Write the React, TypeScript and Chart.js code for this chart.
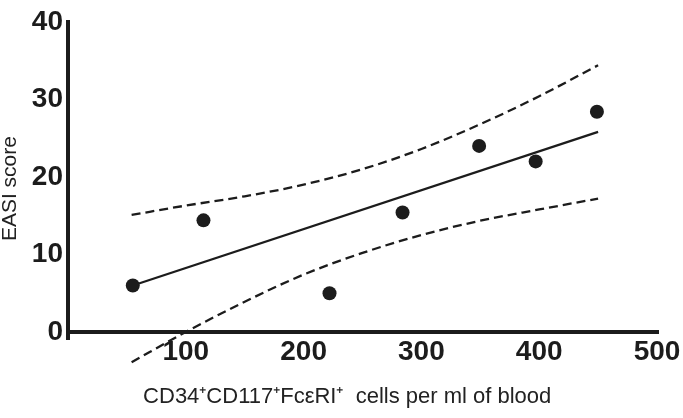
import { useEffect, useRef } from "react";
import { Chart, registerables } from "chart.js";

Chart.register(...registerables);

// CD34+CD117+FcεRI+ cells per ml vs EASI score
const cellCounts = [55, 115, 222, 284, 349, 397, 449];
const easiScores = [6.0, 14.4, 5.0, 15.4, 24.0, 22.0, 28.4];

// regression line end points
const fitX = [55, 450];
const fitY = [6.0, 25.8];

// 95% confidence band
const bandX = [54, 100, 150, 200, 250, 300, 350, 400, 450];
const upperBand = [15.1, 16.3, 17.5, 19.0, 21.0, 23.6, 26.8, 30.4, 34.4];
const lowerBand = [-3.9, 0, 3.9, 7.4, 10.2, 12.5, 14.35, 15.8, 17.2];

const xTicks = [0, 100, 200, 300, 400, 500];
const yTicks = [0, 10, 20, 30, 40];

const ink = "#1c1c1c";
const fontFamily = "'Liberation Sans', Arial, sans-serif";

const toPoints = (xs: number[], ys: number[]) => xs.map((x, i) => ({ x, y: ys[i] }));

export default function App() {
  const chartRef = useRef<HTMLCanvasElement | null>(null);
  const chartInstance = useRef<Chart | null>(null);

  useEffect(() => {
    document.body.style.margin = "0";
    if (!chartRef.current) return;

    if (chartInstance.current) {
      chartInstance.current.destroy();
    }

    const dashed = {
      showLine: true,
      borderColor: ink,
      borderWidth: 2.3,
      borderDash: [9, 5],
      pointRadius: 0,
      cubicInterpolationMode: "monotone" as const,
      clip: false as const,
    };

    chartInstance.current = new Chart(chartRef.current, {
      type: "scatter",
      data: {
        datasets: [
          {
            data: toPoints(cellCounts, easiScores),
            backgroundColor: ink,
            borderWidth: 0,
            pointRadius: 7,
            clip: false,
          },
          {
            data: toPoints(fitX, fitY),
            showLine: true,
            borderColor: ink,
            borderWidth: 2.3,
            pointRadius: 0,
          },
          { data: toPoints(bandX, upperBand), ...dashed },
          { data: toPoints(bandX, lowerBand), ...dashed },
        ],
      },
      options: {
        responsive: false,
        animation: false,
        layout: {
          autoPadding: false,
          padding: { top: 16, right: 26, bottom: 0, left: 0 },
        },
        plugins: {
          legend: { display: false },
          tooltip: { enabled: false },
        },
        scales: {
          x: {
            type: "linear",
            min: 0,
            max: 500,
            afterFit: (scale) => {
              scale.height = 86;
            },
            afterBuildTicks: (scale) => {
              scale.ticks = xTicks.map((value) => ({ value }));
            },
            border: { display: true, width: 4, color: ink },
            grid: {
              drawOnChartArea: false,
              drawTicks: true,
              tickLength: 8,
              lineWidth: 4,
              // only the tick at 0, so the y axis pokes out below the x axis
              color: (ctx) => (ctx.tick && ctx.tick.value === 0 ? ink : "rgba(0,0,0,0)"),
            },
            ticks: {
              padding: -5,
              color: ink,
              font: { family: fontFamily, size: 28, weight: "bold" },
              callback: (value) => (value === 0 ? "" : String(value)),
            },
            title: {
              display: true,
              // trailing spaces nudge the centred title left, as in the original
              text: "CD34\u207ACD117\u207AFc\u03B5RI\u207A  cells per ml of blood     ",
              color: "#222",
              font: { family: fontFamily, size: 22 },
              padding: { top: 0, bottom: 8 },
            },
          },
          y: {
            type: "linear",
            min: 0,
            max: 40,
            afterFit: (scale) => {
              scale.width = 68;
            },
            afterBuildTicks: (scale) => {
              scale.ticks = yTicks.map((value) => ({ value }));
            },
            border: { display: true, width: 4, color: ink },
            grid: { display: false, drawTicks: false },
            ticks: {
              padding: 5,
              color: ink,
              font: { family: fontFamily, size: 28, weight: "bold" },
            },
            title: {
              display: true,
              text: "EASI score    ",
              color: "#222",
              font: { family: fontFamily, size: 21, lineHeight: 1 },
              padding: { top: 0, bottom: 0 },
            },
          },
        },
      },
    });

    return () => {
      if (chartInstance.current) {
        chartInstance.current.destroy();
        chartInstance.current = null;
      }
    };
  }, []);

  return (
    <div style={{ width: 683, height: 418, background: "#fff" }}>
      <canvas ref={chartRef} width={683} height={418}></canvas>
    </div>
  );
}
